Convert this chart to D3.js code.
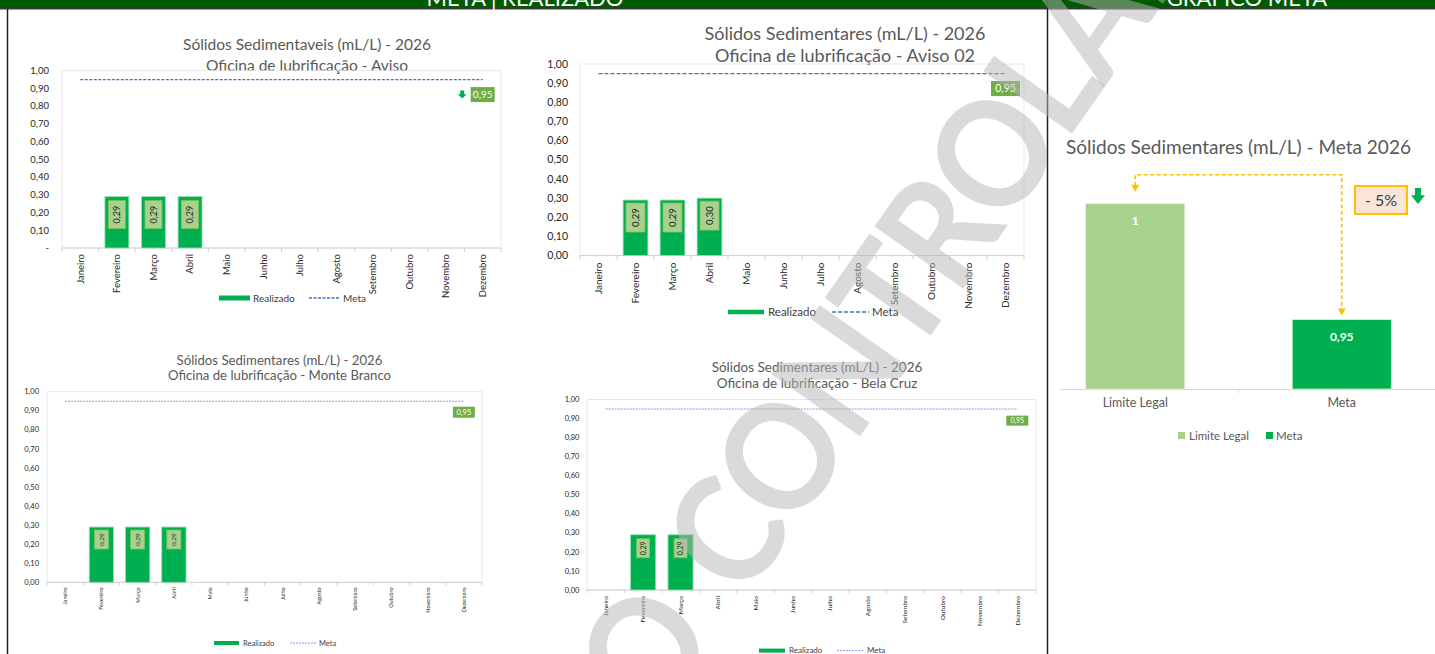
<!DOCTYPE html>
<html><head><meta charset="utf-8">
<script src="https://cdn.jsdelivr.net/npm/d3@7"></script>
<style>
html,body{margin:0;padding:0;background:#fff;overflow:hidden}
svg{display:block;font-family:Lato,"Open Sans",sans-serif}
</style></head>
<body><svg id="c" width="1435" height="654"></svg>
<script>
// ---------- data ----------
const months = ["Janeiro","Fevereiro","Março","Abril","Maio","Junho","Julho","Agosto","Setembro","Outubro","Novembro","Dezembro"];
const realizadoAviso       = [null,0.29,0.29,0.29,null,null,null,null,null,null,null,null];
const realizadoAviso02     = [null,0.29,0.29,0.30,null,null,null,null,null,null,null,null];
const realizadoMonteBranco = [null,0.29,0.29,0.29,null,null,null,null,null,null,null,null];
const realizadoBelaCruz    = [null,0.29,0.29,null,null,null,null,null,null,null,null,null];
const metaValor = 0.95;
const yTickValues = [0,0.1,0.2,0.3,0.4,0.5,0.6,0.7,0.8,0.9,1.0];
const metaCategorias = ["Limite Legal","Meta"];
const metaValores = [1,0.95];
const metaReducao = "- 5%";
const headerLabels = ["META | REALIZADO","GRÁFICO META"];
const legendLabels = ["Realizado","Meta"];
const watermarkWords = ["CÓPIA NÃO","CONTROLADA"];

const svg = d3.select("#c");
const fmt = v => d3.format(".2f")(v).replace(".", ",");
const GREEN = "#00b050", LGREEN = "#a9d18e", MGREEN = "#70ad47", GREY = "#595959";

function downArrow(g, x, y, w, h, color){
  g.append("path").attr("fill", color)
   .attr("d", `M${x+w*0.28},${y}H${x+w*0.72}V${y+h*0.45}H${x+w}L${x+w/2},${y+h}L${x},${y+h*0.45}H${x+w*0.28}Z`);
}

// ---------- header ----------
svg.append("rect").attr("x",0).attr("y",0).attr("width",1435).attr("height",8).attr("fill","#005a00");
svg.append("line").attr("x1",0).attr("x2",1435).attr("y1",8.5).attr("y2",8.5).attr("stroke","#3a3a3a").attr("stroke-width",2);
svg.append("text").attr("x",525).attr("y",6).attr("text-anchor","middle").attr("fill","#fff")
   .attr("font-size",22).text(headerLabels[0]);
svg.append("text").attr("x",1247).attr("y",6).attr("text-anchor","middle").attr("fill","#fff")
   .attr("font-size",22).text(headerLabels[1]);
svg.append("line").attr("x1",7.5).attr("x2",7.5).attr("y1",9).attr("y2",654).attr("stroke","#222").attr("stroke-width",1.5);
svg.append("line").attr("x1",1047.5).attr("x2",1047.5).attr("y1",0).attr("y2",654).attr("stroke","#222").attr("stroke-width",1.5);

// ---------- monthly charts ----------
function monthChart(values, c){
  const g = svg.append("g");
  const x = d3.scaleBand().domain(months).range([c.x0,c.x1]).paddingInner(c.pad).paddingOuter(c.pad/2);
  const y = d3.scaleLinear().domain([0,1]).range([c.yBot,c.yTop]);
  const step = x.step(), bw = x.bandwidth();
  const cx = m => x(m) + bw/2;

  c.title.forEach((t,i)=>{
    g.append("text").attr("x",c.titleX).attr("y",c.titleY[i]).attr("dy","0.35em").attr("text-anchor","middle")
     .attr("fill",GREY).attr("font-size",c.titleSize).text(t);
  });
  g.append("rect").attr("x",c.x0).attr("y",c.yTop).attr("width",c.x1-c.x0).attr("height",c.yBot-c.yTop)
   .attr("fill","none").attr("stroke","#e3e3e3").attr("stroke-width",0.8);

  yTickValues.forEach(t=>{
    g.append("text").attr("x",c.yLabelX).attr("y",y(t)).attr("dy","0.35em").attr("text-anchor","end")
     .attr("fill","#262626").attr("font-size",c.yFont).text(t===0 ? c.zeroLabel : fmt(t));
  });
  g.append("line").attr("x1",c.x0).attr("x2",c.x1).attr("y1",y(0)).attr("y2",y(0)).attr("stroke","#d0d0d0").attr("stroke-width",1);
  d3.range(months.length+1).forEach(i=>{
    const xx = c.x0 + i*step;
    g.append("line").attr("x1",xx).attr("x2",xx).attr("y1",y(0)).attr("y2",y(0)+c.tickLen).attr("stroke","#d0d0d0");
  });
  months.forEach(m=>{
    g.append("text").attr("transform",`translate(${cx(m)},${y(0)+c.xlOff}) rotate(-90)`).attr("dy","0.35em")
     .attr("text-anchor","end").attr("fill","#262626").attr("font-size",c.xFont).text(m);
  });

  values.forEach((v,i)=>{
    if(v==null) return;
    const m = months[i];
    g.append("rect").attr("x",x(m)).attr("y",y(v)).attr("width",bw).attr("height",y(0)-y(v))
     .attr("fill",GREEN).attr("stroke","#9be0b5").attr("stroke-width",0.8);
    const bx = cx(m), by = y(v)+c.boxOff + c.boxH/2;
    g.append("rect").attr("x",bx-c.boxW/2).attr("y",by-c.boxH/2).attr("width",c.boxW).attr("height",c.boxH)
     .attr("fill",LGREEN).attr("stroke","#7fbf5a").attr("stroke-width",0.8);
    g.append("text").attr("transform",`translate(${bx},${by}) rotate(-90)`).attr("dy","0.35em").attr("text-anchor","middle")
     .attr("fill","#262626").attr("font-size",c.lblFont).text(fmt(v));
  });

  const mx1 = cx(months[0]), mx2 = cx(months[months.length-1]);
  g.append("line").attr("x1",mx1).attr("x2",mx2).attr("y1",y(metaValor)).attr("y2",y(metaValor))
   .attr("stroke",c.metaColor).attr("stroke-width",c.metaW).attr("stroke-dasharray",c.dash);
  const lx = mx2, ly = y(metaValor)+c.mlDy;
  g.append("rect").attr("x",lx-c.mlW/2).attr("y",ly-c.mlH/2).attr("width",c.mlW).attr("height",c.mlH).attr("fill",MGREEN);
  g.append("text").attr("x",lx).attr("y",ly).attr("dy","0.36em").attr("text-anchor","middle").attr("fill","#fff")
   .attr("font-size",c.mlFont).text(fmt(metaValor));
  if(c.arrow) downArrow(g, lx-c.mlW/2-13, ly-4, 9, 8, GREEN);

  // legend
  const L = c.legend;
  g.append("rect").attr("x",L.swX).attr("y",L.y-L.swH/2).attr("width",L.swW).attr("height",L.swH).attr("fill",GREEN);
  g.append("text").attr("x",L.t1X).attr("y",L.y).attr("dy","0.35em").attr("fill","#404040").attr("font-size",L.font).text(legendLabels[0]);
  g.append("line").attr("x1",L.lnX1).attr("x2",L.lnX2).attr("y1",L.y).attr("y2",L.y)
   .attr("stroke",c.metaColor).attr("stroke-width",c.metaW).attr("stroke-dasharray",c.dash);
  g.append("text").attr("x",L.t2X).attr("y",L.y).attr("dy","0.35em").attr("fill","#404040").attr("font-size",L.font).text(legendLabels[1]);
}

monthChart(realizadoAviso, {
  title:["Sólidos Sedimentaveis (mL/L) - 2026","Oficina de lubrificação - Aviso"], titleX:307, titleY:[45,66], titleSize:15.5,
  x0:62, x1:501, yTop:70.7, yBot:248, pad:0.345, yLabelX:49, yFont:9.5, zeroLabel:"-", tickLen:4,
  xlOff:6, xFont:9.5, lblFont:9, boxW:17, boxH:28, boxOff:4,
  metaColor:"#4472c4", metaW:1.3, dash:"3,1.5", mlW:24, mlH:15, mlDy:15, mlFont:10, arrow:true,
  legend:{y:298, swX:219, swW:31, swH:5, t1X:253, lnX1:309, lnX2:340, t2X:343, font:10}
});
monthChart(realizadoAviso02, {
  title:["Sólidos Sedimentares (mL/L) - 2026","Oficina de lubrificação - Aviso 02"], titleX:845, titleY:[34,55.5], titleSize:18,
  x0:580, x1:1024, yTop:64, yBot:255.6, pad:0.33, yLabelX:568, yFont:10.5, zeroLabel:"0,00", tickLen:4,
  xlOff:7, xFont:10, lblFont:9.5, boxW:19, boxH:29, boxOff:3,
  metaColor:"#4472c4", metaW:1.4, dash:"4,2", mlW:29, mlH:15, mlDy:15, mlFont:10.5, arrow:false,
  legend:{y:312, swX:728, swW:36, swH:4.5, t1X:768, lnX1:832, lnX2:869, t2X:872, font:11.5}
});
monthChart(realizadoMonteBranco, {
  title:["Sólidos Sedimentares (mL/L) - 2026","Oficina de lubrificação - Monte Branco"], titleX:279.5, titleY:[360,375], titleSize:13.2,
  x0:47, x1:482, yTop:391.7, yBot:582.3, pad:0.33, yLabelX:39, yFont:7.5, zeroLabel:"0,00", tickLen:3,
  xlOff:5, xFont:5.5, lblFont:6.5, boxW:14, boxH:19, boxOff:3,
  metaColor:"#7f9fdc", metaW:1, dash:"2,1", mlW:22, mlH:11, mlDy:11, mlFont:7.5, arrow:false,
  legend:{y:643, swX:214, swW:25, swH:4, t1X:243, lnX1:290, lnX2:316, t2X:319, font:7.5}
});
monthChart(realizadoBelaCruz, {
  title:["Sólidos Sedimentares (mL/L) - 2026","Oficina de lubrificação - Bela Cruz"], titleX:817, titleY:[367.6,383], titleSize:13.5,
  x0:587, x1:1036, yTop:399.5, yBot:590, pad:0.33, yLabelX:579.4, yFont:7.5, zeroLabel:"0,00", tickLen:3,
  xlOff:6, xFont:6.5, lblFont:7, boxW:13, boxH:19, boxOff:4,
  metaColor:"#7f9fdc", metaW:1, dash:"2,1", mlW:22, mlH:10, mlDy:11.6, mlFont:7, arrow:false,
  legend:{y:650.6, swX:759, swW:26, swH:4, t1X:789, lnX1:837, lnX2:863, t2X:867, font:8}
});

// ---------- meta chart (right panel) ----------
(function(){
  const g = svg.append("g");
  const x = d3.scaleBand().domain(metaCategorias).range([1032,1445]).paddingInner(0.52).paddingOuter(0.26);
  const y = d3.scaleLinear().domain([0.92,1.0]).range([389,203.7]);
  const bw = x.bandwidth(), cx = d => x(d)+bw/2;
  const colors = [LGREEN, GREEN];
  g.append("text").attr("x",1066).attr("y",147).attr("dy","0.35em").attr("fill",GREY).attr("font-size",19)
   .text("Sólidos Sedimentares (mL/L) - Meta 2026");
  metaCategorias.forEach((cat,i)=>{
    g.append("rect").attr("x",x(cat)).attr("y",y(metaValores[i])).attr("width",bw).attr("height",389-y(metaValores[i]))
     .attr("fill",colors[i]).attr("stroke","#e2f0d9").attr("stroke-width",0.8);
    g.append("text").attr("x",cx(cat)).attr("y",y(metaValores[i])+17).attr("dy","0.35em").attr("text-anchor","middle")
     .attr("fill","#fff").attr("font-weight","bold").attr("font-size",12)
     .text(Number.isInteger(metaValores[i]) ? String(metaValores[i]) : fmt(metaValores[i]));
    g.append("text").attr("x",cx(cat)).attr("y",403).attr("dy","0.35em").attr("text-anchor","middle")
     .attr("fill",GREY).attr("font-size",12.5).text(cat);
  });
  g.append("line").attr("x1",1060).attr("x2",1435).attr("y1",389.5).attr("y2",389.5).attr("stroke","#d9d9d9");
  g.append("line").attr("x1",x.step()+1032).attr("x2",x.step()+1032).attr("y1",389.5).attr("y2",393).attr("stroke","#d9d9d9");
  // legend
  const lg = [{x:1178, tx:1189},{x:1266, tx:1276}];
  metaCategorias.forEach((cat,i)=>{
    g.append("rect").attr("x",lg[i].x).attr("y",432).attr("width",7).attr("height",7).attr("fill",colors[i]);
    g.append("text").attr("x",lg[i].tx).attr("y",435.5).attr("dy","0.35em").attr("fill",GREY).attr("font-size",11.5).text(cat);
  });
  // connector
  const x1 = cx(metaCategorias[0]), x2 = cx(metaCategorias[1]);
  const top = 174.7, e1 = y(metaValores[0]) - 12, e2 = y(metaValores[1]) - 4;
  g.append("path").attr("d",`M${x1},${e1-6}V${top}H${x2}V${e2-6}`).attr("fill","none")
   .attr("stroke","#ffc000").attr("stroke-width",1.6).attr("stroke-dasharray","4,2.5");
  [[x1,e1],[x2,e2]].forEach(([ax,ay])=>{
    g.append("path").attr("d",`M${ax-4},${ay-7}L${ax+4},${ay-7}L${ax},${ay}Z`).attr("fill","#ffc000");
  });
  g.append("rect").attr("x",1355).attr("y",186).attr("width",52).attr("height",28).attr("fill","#fbe5d6")
   .attr("stroke","#ffc000").attr("stroke-width",2);
  g.append("text").attr("x",1381).attr("y",200).attr("dy","0.35em").attr("text-anchor","middle").attr("fill","#2f3b5c")
   .attr("font-size",16).text(metaReducao);
  downArrow(g, 1411, 188, 14, 16, GREEN);
})();

// ---------- watermark ----------
(function(){
  const wm = svg.append("g").attr("pointer-events","none").attr("transform","translate(744,602) rotate(-55) scale(0.92,1)");
  wm.append("text").attr("x",0).attr("y",0).attr("font-size",150).attr("font-weight","bold").attr("letter-spacing",-5)
    .attr("fill","#b5b5b5").attr("fill-opacity",0.5).text(watermarkWords[1]);
  wm.append("text").attr("x",-50).attr("y",0).attr("text-anchor","end").attr("font-size",150).attr("font-weight","bold")
    .attr("letter-spacing",-5).attr("fill","#b5b5b5").attr("fill-opacity",0.5).text(watermarkWords[0]);
})();
</script></body></html>
